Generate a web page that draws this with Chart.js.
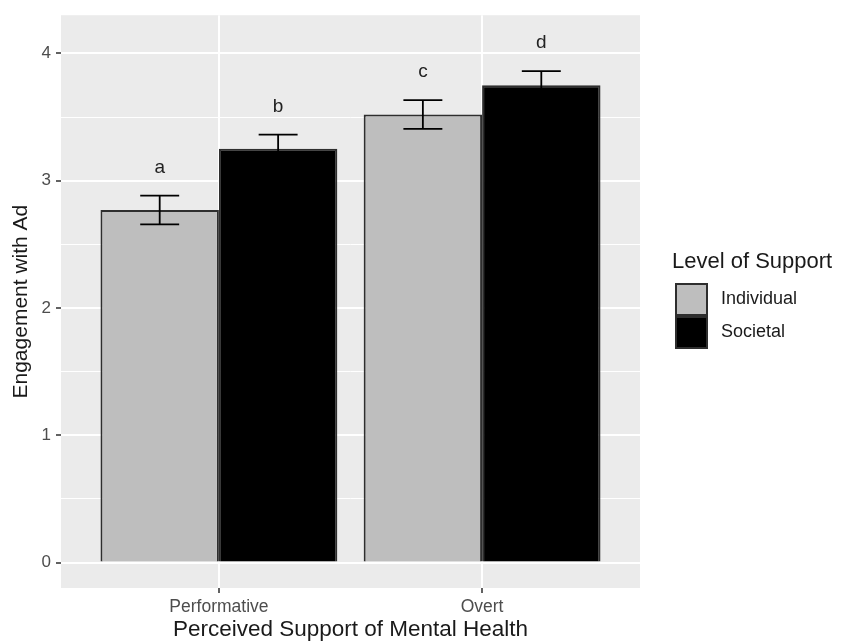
<!DOCTYPE html>
<html>
<head>
<meta charset="utf-8">
<script src="https://cdn.jsdelivr.net/npm/chart.js@4"></script>
<style>
  html, body { margin: 0; padding: 0; background: #fff; }
  #wrap { width: 851px; height: 641px; }
</style>
</head>
<body>
<div id="wrap"><canvas id="chart" width="851" height="641"></canvas></div>
<script>
/*************************************************
 * 1. Data
 *************************************************/
const categories = ["Performative", "Overt"];
const supportLevels = ["Individual", "Societal"];

const individualMeans = [2.77, 3.52];
const individualSE = [0.113, 0.113];
const individualLetters = ["a", "c"];

const societalMeans = [3.25, 3.75];
const societalSE = [0.112, 0.11];
const societalLetters = ["b", "d"];

const yTickValues = [0, 1, 2, 3, 4];

/*************************************************
 * 2. Styles
 *************************************************/
const FONT = "'Liberation Sans', Arial, Helvetica, sans-serif";
const PANEL_BG = "#EBEBEB";
const TICK_TEXT = "#4D4D4D";
const EDGE = "#2e2e2e";
const fills = ["#BEBEBE", "#000000"];

const toPoints = (vals) => vals.map((v, i) => ({ x: i + 1, y: v }));

/*************************************************
 * 3. Plugins (panel, error bars, letters, legend)
 *************************************************/
const panelPlugin = {
    id: "panel",
    beforeDraw(chart) {
        const { ctx, chartArea: a } = chart;
        ctx.save();
        ctx.fillStyle = PANEL_BG;
        ctx.fillRect(a.left, a.top, a.right - a.left, a.bottom - a.top);
        ctx.restore();
    }
};

const errorBarPlugin = {
    id: "errorBars",
    afterDatasetsDraw(chart) {
        const { ctx, scales: { x, y } } = chart;
        const capHalf = x.getPixelForValue(1.074) - x.getPixelForValue(1);
        ctx.save();
        chart.data.datasets.forEach((ds, d) => {
            const meta = chart.getDatasetMeta(d);
            meta.data.forEach((bar, i) => {
                const m = ds.data[i].y;
                const se = ds.se[i];
                const top = y.getPixelForValue(m + se);
                const bot = y.getPixelForValue(m - se);
                ctx.strokeStyle = "#000";
                ctx.lineWidth = 1.8;
                ctx.beginPath();
                ctx.moveTo(bar.x - capHalf, top);
                ctx.lineTo(bar.x + capHalf, top);
                ctx.moveTo(bar.x, top);
                ctx.lineTo(bar.x, bot);
                ctx.moveTo(bar.x - capHalf, bot);
                ctx.lineTo(bar.x + capHalf, bot);
                ctx.stroke();

                ctx.fillStyle = "#222";
                ctx.font = "19px " + FONT;
                ctx.textAlign = "center";
                ctx.textBaseline = "middle";
                ctx.fillText(ds.letters[i], bar.x, y.getPixelForValue(m + se + 0.22));
            });
        });
        ctx.restore();
    }
};

const legendPlugin = {
    id: "ggLegend",
    afterDraw(chart) {
        const { ctx, chartArea: a } = chart;
        const left = a.right + 32;
        ctx.save();
        ctx.fillStyle = "#1a1a1a";
        ctx.font = "22px " + FONT;
        ctx.textAlign = "left";
        ctx.textBaseline = "middle";
        ctx.fillText("Level of Support", left, 262);

        const key = 33;
        chart.data.datasets.forEach((ds, d) => {
            const ky = 283 + d * key;
            ctx.fillStyle = ds.backgroundColor;
            ctx.fillRect(left + 3, ky, key, key);
            ctx.strokeStyle = EDGE;
            ctx.lineWidth = 2;
            ctx.strokeRect(left + 4, ky + 1, key - 2, key - 2);
            ctx.fillStyle = "#1a1a1a";
            ctx.font = "18px " + FONT;
            ctx.fillText(ds.label, left + 49, ky + key / 2);
        });
        ctx.restore();
    }
};

/*************************************************
 * 4. Chart
 *************************************************/
new Chart(document.getElementById("chart"), {
    type: "bar",
    data: {
        datasets: [
            {
                label: supportLevels[0],
                data: toPoints(individualMeans),
                se: individualSE,
                letters: individualLetters,
                backgroundColor: fills[0],
                borderColor: EDGE,
                borderWidth: 2
            },
            {
                label: supportLevels[1],
                data: toPoints(societalMeans),
                se: societalSE,
                letters: societalLetters,
                backgroundColor: fills[1],
                borderColor: EDGE,
                borderWidth: 2
            }
        ]
    },
    options: {
        responsive: false,
        devicePixelRatio: 1,
        animation: false,
        categoryPercentage: 0.9,
        barPercentage: 1.0,
        layout: { padding: { left: 0, top: 12, right: 211, bottom: 0 } },
        plugins: { legend: { display: false }, tooltip: { enabled: false } },
        scales: {
            x: {
                type: "linear",
                min: 0.4,
                max: 2.6,
                offset: false,
                afterBuildTicks: (s) => { s.ticks = categories.map((c, i) => ({ value: i + 1 })); },
                afterFit: (s) => { s.height = 53; },
                ticks: {
                    callback: (v, i) => categories[i],
                    color: TICK_TEXT,
                    font: { family: FONT, size: 17.5 },
                    padding: 4,
                    maxRotation: 0
                },
                grid: {
                    offset: false,
                    color: "#FFFFFF",
                    lineWidth: 2,
                    tickColor: EDGE,
                    tickWidth: 1.5,
                    tickLength: 5
                },
                border: { display: false },
                title: {
                    display: true,
                    text: "Perceived Support of Mental Health",
                    color: "#1a1a1a",
                    font: { family: FONT, size: 22.5, lineHeight: 1.0 },
                    padding: { top: 0, bottom: 0 }
                }
            },
            y: {
                min: -0.2,
                max: 4.3,
                afterBuildTicks: (s) => {
                    const t = [];
                    yTickValues.forEach((v, i) => {
                        t.push({ value: v });
                        if (i < yTickValues.length - 1) t.push({ value: (v + yTickValues[i + 1]) / 2 });
                    });
                    s.ticks = t;
                },
                afterFit: (s) => { s.width = 61; },
                ticks: {
                    callback: (v) => (Number.isInteger(v) ? String(v) : ""),
                    color: TICK_TEXT,
                    font: { family: FONT, size: 17 },
                    padding: 5
                },
                grid: {
                    color: "#FFFFFF",
                    lineWidth: (c) => (Number.isInteger(c.tick.value) ? 2 : 1),
                    tickColor: (c) => (Number.isInteger(c.tick.value) ? EDGE : "rgba(0,0,0,0)"),
                    tickWidth: 1.5,
                    tickLength: 5
                },
                border: { display: false },
                title: {
                    display: true,
                    text: "Engagement with Ad",
                    color: "#1a1a1a",
                    font: { family: FONT, size: 21, lineHeight: 1.2 },
                    padding: { top: 9, bottom: 0 }
                }
            }
        }
    },
    plugins: [panelPlugin, errorBarPlugin, legendPlugin]
});
</script>
</body>
</html>
